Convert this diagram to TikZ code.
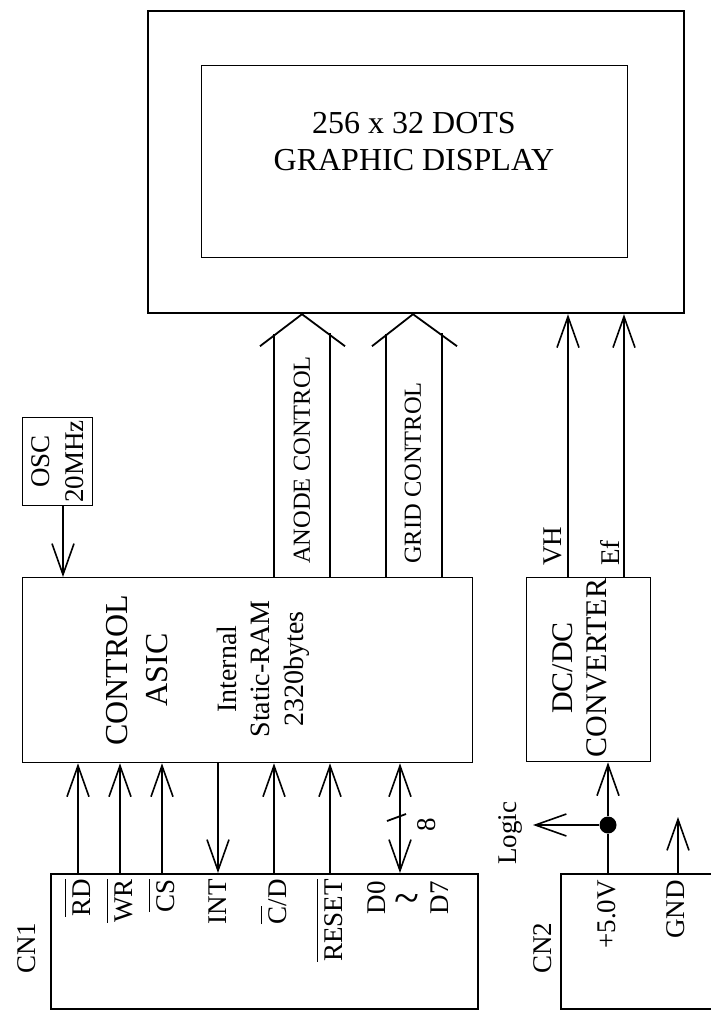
\documentclass[tikz,border=0pt]{standalone}
\usepackage{fontspec}
\setmainfont{Liberation Serif}
\usetikzlibrary{arrows.meta}
\newcommand{\ovl}[1]{\vbox{\hrule height 1.3pt\kern 7pt\hbox{#1}}}
\begin{document}
\begin{tikzpicture}[x=1pt,y=-1pt,
  box/.style={draw,line width=1.3pt,inner sep=0pt,anchor=north west},
  arr/.style={line width=1.6pt,-{Straight Barb[length=31pt,width=22pt]}},
  darr/.style={line width=1.6pt,{Straight Barb[length=31pt,width=22pt]}-{Straight Barb[length=31pt,width=22pt]}},
  fat/.style={line width=1.8pt},
  lab/.style={font=\fontsize{27}{32}\selectfont,inner sep=0pt},
  small/.style={font=\fontsize{24.5}{29}\selectfont,inner sep=0pt}]
\useasboundingbox (0,0) rectangle (711,1010);

% display
\node[box,line width=2.2pt,minimum width=536pt,minimum height=302pt] (disp) at (147,10) {};
\node[box,line width=1pt,minimum width=426pt,minimum height=192pt] (panel) at (201,65) {};
\node[font=\fontsize{32}{37}\selectfont,align=center] (ptext) at (414,142) {256 x 32 DOTS\\GRAPHIC DISPLAY};

% oscillator
\node[box,minimum width=70pt,minimum height=88pt] (osc) at (22,417) {};
\node[rotate=90,align=center,font=\fontsize{27}{34}\selectfont,inner sep=0pt] (osct) at (osc.center) {OSC\\20MHz};

% ASIC
\node[box,minimum width=450pt,minimum height=185pt] (asic) at (22,577) {};
\node[rotate=90,align=center,font=\fontsize{32}{40}\selectfont,inner sep=0pt] (asict) at (137,670) {CONTROL\\ASIC};
\node[rotate=90,align=center,font=\fontsize{28}{33.5}\selectfont,inner sep=0pt] (ramt) at (263,669) {Internal\\Static-RAM\\2320bytes};

% DC/DC
\node[box,minimum width=124pt,minimum height=184pt] (dcdc) at (526,577) {};
\node[rotate=90,align=center,font=\fontsize{30}{34}\selectfont,inner sep=0pt] (dct) at (580,668) {DC/DC\\CONVERTER};

% connectors boxes
\node[box,line width=2pt,minimum width=427pt,minimum height=135pt] (cn1) at (50,873) {};
\node[box,line width=2pt,minimum width=170pt,minimum height=135pt] (cn2) at (560,873) {};

% column coordinates
\coordinate (cO) at (63,0);
\coordinate (cA) at (302,0); \coordinate (cAl) at (274,0); \coordinate (cAr) at (330,0);
\coordinate (cG) at (413,0); \coordinate (cGl) at (386,0); \coordinate (cGr) at (442,0);
\coordinate (cV) at (568,0); \coordinate (cE) at (624,0);
\coordinate (cRD) at (78,0); \coordinate (cWR) at (120,0); \coordinate (cCS) at (162,0);
\coordinate (cINT) at (218,0); \coordinate (cCD) at (274,0); \coordinate (cRS) at (330,0);
\coordinate (cD) at (400,0);
\coordinate (cP) at (608,0); \coordinate (cGnd) at (678,0);

% OSC arrow
\draw[arr] (cO |- osc.south) -- (cO |- asic.north);

% fat arrows
\draw[fat] (cA |- disp.south) ++(-42,32) -- ++(42,-32) -- ++(43,32);
\draw[fat] (cAl |- asic.north) -- ++(0,-243);
\draw[fat] (cAr |- asic.north) -- ++(0,-244);
\node[small,rotate=90,anchor=west] (anodet) at (302,564) {ANODE CONTROL};
\draw[fat] (cG |- disp.south) ++(-41,32) -- ++(41,-32) -- ++(44,32);
\draw[fat] (cGl |- asic.north) -- ++(0,-243);
\draw[fat] (cGr |- asic.north) -- ++(0,-244);
\node[small,rotate=90,anchor=west] (gridt) at (413,564) {GRID CONTROL};

% VH / Ef
\draw[arr] (cV |- dcdc.north) -- (cV |- disp.south);
\draw[arr] (cE |- dcdc.north) -- (cE |- disp.south);
\node[lab,rotate=90,anchor=west] (vht) at (553,566) {VH};
\node[lab,rotate=90,anchor=west] (eft) at (610,566) {Ef};

% CN1 signals
\draw[arr] (cRD |- cn1.north) -- (cRD |- asic.south);
\draw[arr] (cWR |- cn1.north) -- (cWR |- asic.south);
\draw[arr] (cCS |- cn1.north) -- (cCS |- asic.south);
\draw[arr] (cINT |- asic.south) -- (cINT |- cn1.north);
\draw[arr] (cCD |- cn1.north) -- (cCD |- asic.south);
\draw[arr] (cRS |- cn1.north) -- (cRS |- asic.south);
\draw[darr] (cD |- asic.south) -- (cD |- cn1.north);
\draw[fat] (387,821) -- (406,814);
\node[lab,rotate=90] (l8) at (427,825) {8};

\node[lab,rotate=90,anchor=east] (lRD) at (78,879) {\ovl{RD}};
\node[lab,rotate=90,anchor=east] (lWR) at (120,879) {\ovl{WR}};
\node[lab,rotate=90,anchor=east] (lCS) at (162,879) {\ovl{CS}};
\node[lab,rotate=90,anchor=east] (lINT) at (218,879) {INT};
\node[lab,rotate=90,anchor=east] (lCD) at (274,879) {\ovl{C}/D};
\node[lab,rotate=90,anchor=east] (lRS) at (330,879) {\ovl{RESET}};
\node[lab,rotate=90,anchor=east] (lD0) at (377,881) {D0};
\node[inner sep=0pt,font=\fontsize{46}{46}\selectfont] (ltil) at (407,904) {\textasciitilde};
\node[lab,rotate=90,anchor=east] (lD7) at (440,881) {D7};
\node[lab,rotate=90] (lcn1) at (27,948) {CN1};

% CN2 side
\node[circle,fill,inner sep=0pt,minimum size=17pt] (dot) at (608,825) {};
\draw[fat] (cP |- cn2.north) -- (dot);
\draw[arr] (dot) -- (cP |- dcdc.south);
\coordinate (logicEnd) at (533,825);
\draw[arr] (dot) -- (logicEnd);
\node[lab,rotate=90] (logic) at (510,833) {Logic};
\coordinate (gndEnd) at (678,817);
\draw[arr] (cGnd |- cn2.north) -- (gndEnd);
\node[lab,rotate=90,anchor=east] (l5v) at (607,880) {+5.0V};
\node[lab,rotate=90,anchor=east] (lgnd) at (676,880) {GND};
\node[lab,rotate=90] (lcn2) at (543,948) {CN2};
\end{tikzpicture}
\end{document}
